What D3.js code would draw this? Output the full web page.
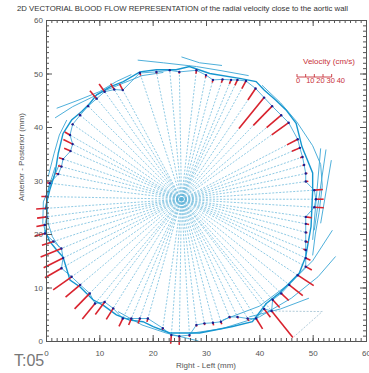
<!DOCTYPE html>
<html>
<head>
<meta charset="utf-8">
<script src="https://cdn.jsdelivr.net/npm/d3@7"></script>
<style>
  body { margin: 0; background: #fff; }
  svg { display: block; font-family: "Liberation Sans", Arial, sans-serif; }
</style>
</head>
<body>
<svg id="chart" width="369" height="373"></svg>
<script>
// wall sample points (mm), clockwise from the left side
const wallX = [-0.2, -0.2, 0.1, 0.1, 0.1, 0.7, 2.3, 2.9, 3.2, 4.6, 5.0, 4.5, 5.0,
  6.4, 7.9, 9.5, 11.0, 12.8, 14.4, 17.6, 20.7, 23.2, 25.0, 28.2, 30.0, 31.3, 33.1, 34.7, 35.9, 37.5,
  39.3, 40.9, 42.4, 44.1, 45.5, 47.2, 47.6, 48.1, 48.4, 48.7, 48.7, 50.3, 50.6, 50.3, 48.7, 48.7, 48.7, 48.7, 48.7, 48.7, 48.7,
  47.2, 45.6, 44.1, 42.5, 42.3, 40.9, 39.4, 37.8, 35.9, 34.4, 32.8, 31.3, 29.7, 28.2, 26.9, 25.0, 23.5, 21.9,
  19.1, 17.6, 16.0, 14.4, 12.6, 11.0, 9.2, 8.2, 6.4, 4.8, 2.9, 3.2, 2.9, 1.4];
const wallY = [20.1, 21.7, 23.2, 24.8, 27.0, 29.5, 31.2, 32.6, 34.0, 35.5, 36.8, 38.5, 40.5,
  42.2, 43.9, 45.3, 46.6, 47.0, 46.9, 50.1, 50.3, 50.6, 50.3, 50.6, 49.7, 48.8, 48.9, 48.8, 48.8, 48.6,
  47.2, 45.5, 43.9, 42.2, 40.8, 37.7, 36.1, 34.4, 32.9, 31.3, 29.8, 28.2, 26.5, 25.0, 23.2, 21.9, 20.3, 18.6, 17.0, 15.5, 13.9,
  12.3, 10.5, 8.9, 7.7, 5.6, 6.0, 4.2, 4.2, 4.5, 4.5, 3.6, 3.4, 3.3, 3.0, 1.1, 0.9, 1.1, 2.4,
  4.2, 4.2, 4.2, 4.2, 6.1, 7.3, 7.0, 8.9, 10.5, 12.0, 13.6, 15.5, 17.3, 18.6];
// radial velocity (cm/s), + = outward
const radialVel = [12, 10, 11, 12, 6, 4, 3, 4, 5, 8, 12, 7, 1,
  2, 1, 12, 11, 8, 8, -3, -2, 0, -2, -4, -3, -3, -4, -5, -7, -10,
  -16, -46, -31, -22, -24, -14, -10, -3, -2, 2, 3, 10, 9, 11, 7, 4, 2, 3, -3, 6, 8,
  22, 20, 12, 12, 39, 12, 14, 3, 2, 2, 3, 3, 2, 2, 2, 10, 10, 2,
  4, 6, 8, 10, 15, 18, 23, 25, 22, 26, 22, 25, 26, 14];
const centerPt = [25.4, 26.5];

// traced aortic wall
const contourX = [-0.2, 0.7, 1.7, 2.3, 3.2, 4.8, 6.7, 8.2, 9.5, 12.0, 14.5, 17.6, 20.7, 24.4, 26.9, 30.7, 36.3, 39.4,
  40.9, 43.1, 45.0, 46.9, 48.0, 50.0, 50.0, 49.7, 48.7, 47.5, 45.6, 43.7, 41.3, 38.7, 35.0, 31.9, 28.8, 26.3,
  23.2, 20.1, 18.2, 15.7, 13.2, 10.7, 8.8, 6.4, 4.5, 3.2, 2.0, 0.7, -0.2];
const contourY = [24.5, 28.2, 31.4, 35.1, 38.8, 41.3, 42.9, 44.4, 46.0, 47.5, 48.5, 50.3, 50.7, 50.7, 51.3, 50.0, 49.1, 48.5,
  46.9, 45.0, 43.2, 40.7, 36.3, 31.4, 28.2, 21.4, 15.8, 12.7, 10.8, 8.9, 7.0, 3.6, 2.7, 2.1, 1.5, 1.5,
  1.5, 2.7, 3.6, 3.9, 4.9, 6.7, 7.7, 10.1, 11.4, 15.7, 17.0, 18.6, 20.7];

// other wall traces
const strands = [
  [[1.7, 41.7], [5, 43.8], [8.5, 45.5], [11.3, 46.9], [14.5, 48.2], [18, 49.6], [22, 50.2]],
  [[2.0, 43.5], [6, 45.0], [10, 46.6], [13.2, 48.5], [16, 49.8]],
  [[0.4, 30.7], [1.5, 35], [2.5, 38.5], [3.9, 41.3]],
  [[17.2, 52.5], [22, 52], [28.2, 51.3], [33, 50.5], [38, 49.6]],
  [[25.4, 53.1], [28.8, 52.0], [33, 51.5]],
  [[40.5, 47.8], [44, 44.5], [47, 41], [50, 36.5], [51.5, 33], [51.8, 29], [51.2, 24], [50.5, 20], [50, 16]],
  [[52.5, 35.8], [50.3, 20.7]],
  [[51.5, 36.0], [50.0, 18.9]],
  [[53.5, 33.8], [51.5, 22.0]],
  [[26.9, 1.4], [33, 2.3], [40, 4.5], [46, 8], [51, 12], [54.3, 15.8]],
  [[33.1, 3.9], [40, 6.5], [46, 11], [50, 15], [53.7, 20.7]],
  [[38.1, 4.5], [44, 6], [49.3, 8.0]],
  [[1.7, 32.5], [0.6, 29], [0.2, 26], [0.4, 22], [1.2, 19.5], [2.5, 17.5]],
  [[2.5, 33], [1.2, 30], [-0.5, 26], [-0.6, 22], [0.3, 19.5]],
  [[13.5, 5.5], [18, 3], [22.5, 1.5], [26.5, 0.5], [28.6, 0]]
];
const outerDashed = [[42.3, 5.6], [51.8, 5.5], [46.5, 0.8]];

const axisTicks = [0, 10, 20, 30, 40, 50, 60];
const minorTicks = d3.range(0, 61, 1);
const legendTicks = [0, 10, 20, 30, 40];
const MM_PER_CMS = 0.1625; // vector length scale

const svg = d3.select("#chart");
const x = d3.scaleLinear().domain([0, 60]).range([46, 366]);
const y = d3.scaleLinear().domain([0, 60]).range([341, 20]);

const wall = wallX.map((wx, i) => {
  const dx = wx - centerPt[0], dy = wallY[i] - centerPt[1];
  const r = Math.hypot(dx, dy);
  const k = radialVel[i] * MM_PER_CMS / r;
  return { x: wx, y: wallY[i], ex: wx + dx * k, ey: wallY[i] + dy * k };
});

// radial dashed lines
svg.append("g")
  .selectAll("line")
  .data(wall)
  .join("line")
  .attr("x1", x(centerPt[0])).attr("y1", y(centerPt[1]))
  .attr("x2", d => x(d.x)).attr("y2", d => y(d.y))
  .attr("stroke", "#5fb3d8")
  .attr("stroke-width", 0.7)
  .attr("stroke-dasharray", "2,1.5");

svg.append("path")
  .attr("d", d3.line().x(d => x(d[0])).y(d => y(d[1]))(outerDashed))
  .attr("fill", "none")
  .attr("stroke", "#8fb4c8")
  .attr("stroke-width", 0.7)
  .attr("stroke-dasharray", "2,1.5");

const line = d3.line().x(d => x(d[0])).y(d => y(d[1]));

svg.append("g")
  .selectAll("path")
  .data(strands)
  .join("path")
  .attr("d", line)
  .attr("fill", "none")
  .attr("stroke", "#3aa6d6")
  .attr("stroke-width", 0.9);

// line through the sample points
svg.append("path")
  .attr("d", d3.line().x(d => x(d.x)).y(d => y(d.y)).curve(d3.curveLinearClosed)(wall))
  .attr("fill", "none")
  .attr("stroke", "#2fa0d4")
  .attr("stroke-width", 0.8);

// main wall contour
svg.append("path")
  .attr("d", line(contourX.map((cx, i) => [cx, contourY[i]])))
  .attr("fill", "none")
  .attr("stroke", "#1596cf")
  .attr("stroke-width", 1.4);

// velocity vectors
svg.append("g")
  .selectAll("line")
  .data(wall)
  .join("line")
  .attr("x1", d => x(d.x)).attr("y1", d => y(d.y))
  .attr("x2", d => x(d.ex)).attr("y2", d => y(d.ey))
  .attr("stroke", "#d9232e")
  .attr("stroke-width", 1.6);

svg.append("g")
  .selectAll("circle")
  .data(wall)
  .join("circle")
  .attr("cx", d => x(d.x)).attr("cy", d => y(d.y))
  .attr("r", 1.2)
  .attr("fill", "#1d1d8f");

// axes, ticks inward, box all round
function styleAxis(g) {
  g.selectAll("path, line").attr("stroke", "#555");
  g.selectAll("text").attr("fill", "#555").style("font-size", "8px");
}
const axes = [
  [() => d3.axisBottom(x), "translate(0,341)", 9],
  [() => d3.axisTop(x), "translate(0,20)", null],
  [() => d3.axisLeft(y), "translate(46,0)", 3],
  [() => d3.axisRight(y), "translate(366,0)", null]
];
axes.forEach(([make, tr, pad]) => {
  svg.append("g").attr("transform", tr)
    .call(make().tickValues(minorTicks).tickSize(-3).tickFormat(""))
    .call(styleAxis);
  const major = make().tickValues(axisTicks).tickSizeInner(-6).tickSizeOuter(0)
    .tickPadding(pad === null ? 0 : pad);
  if (pad === null) major.tickFormat("");
  svg.append("g").attr("transform", tr).call(major).call(styleAxis);
});

// titles
svg.append("text")
  .attr("x", 17).attr("y", 11)
  .attr("textLength", 331).attr("lengthAdjust", "spacingAndGlyphs")
  .attr("fill", "#333").style("font-size", "8px")
  .text("2D VECTORIAL BLOOD FLOW REPRESENTATION of the radial velocity close to the aortic wall");

svg.append("text")
  .attr("x", 206).attr("y", 368).attr("text-anchor", "middle")
  .attr("fill", "#555").style("font-size", "8px")
  .text("Right - Left (mm)");

svg.append("text")
  .attr("transform", "translate(24,157) rotate(-90)")
  .attr("text-anchor", "middle")
  .attr("fill", "#555").style("font-size", "8px")
  .text("Anterior - Posterior (mm)");

svg.append("text")
  .attr("x", 14).attr("y", 366)
  .attr("fill", "#777").style("font-size", "16px")
  .text("T:05");

// velocity legend
const lx = d3.scaleLinear().domain([0, 40]).range([297, 297 + x(40 * MM_PER_CMS) - x(0)]);
const leg = svg.append("g").attr("fill", "#c8323a");
leg.append("text").attr("x", 303).attr("y", 64).style("font-size", "8px").text("Velocity (cm/s)");
leg.append("line")
  .attr("x1", lx(0)).attr("x2", lx(40)).attr("y1", 77).attr("y2", 77)
  .attr("stroke", "#c8323a").attr("stroke-width", 0.9);
leg.selectAll(".lt")
  .data(legendTicks)
  .join("line")
  .attr("x1", d => lx(d)).attr("x2", d => lx(d))
  .attr("y1", 77).attr("y2", 74)
  .attr("stroke", "#c8323a").attr("stroke-width", 0.9);
leg.selectAll(".ll")
  .data(legendTicks)
  .join("text")
  .attr("x", d => lx(d) + (d === 0 ? -1 : d / 10 * 1.5 - 1))
  .attr("y", 83)
  .style("font-size", "7.5px")
  .text(d => d);
</script>
</body>
</html>
